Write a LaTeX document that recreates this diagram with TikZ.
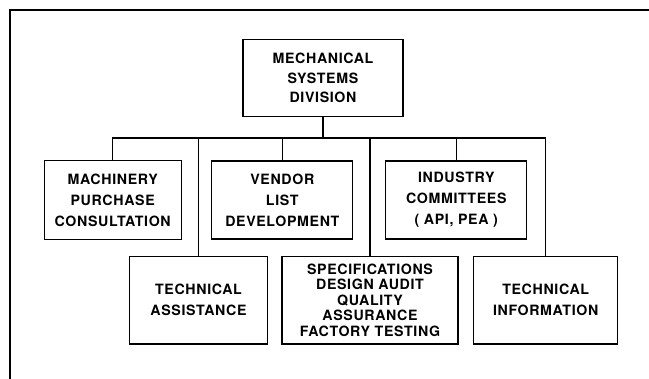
\documentclass[tikz,border=0pt]{standalone}
\usepackage{fontspec}
\setmainfont{TeX Gyre Heros}[LetterSpace=4.5]
\usetikzlibrary{calc}
\tikzset{
  box/.style={draw, line width=1.2pt, inner sep=0pt, align=center,
    font=\bfseries\fontsize{14.2}{21}\selectfont},
  tight/.style={font=\bfseries\fontsize{14.2}{15.5}\selectfont},
  topline/.style={font=\bfseries\fontsize{14.2}{19.2}\selectfont},
  wire/.style={line width=1.2pt},
}
\begin{document}
\begin{tikzpicture}[x=1pt,y=-1pt]
\useasboundingbox (0,0) rectangle (649,379);
\draw[wire] (10,379) -- (10,10) -- (649,10);
\node[box, topline, minimum width=160pt, minimum height=77pt] (top) at (323,78) {MECHANICAL\\SYSTEMS\\DIVISION};
\node[box, minimum width=137pt, minimum height=79pt] (mach) at (112.7,200.3) {MACHINERY\\PURCHASE\\CONSULTATION};
\node[box, minimum width=141pt, minimum height=78pt] (vend) at (282.3,200) {VENDOR\\LIST\\DEVELOPMENT};
\node[box, minimum width=141pt, minimum height=78pt] (ind) at (456.3,200) {INDUSTRY\\COMMITTEES\\( API, PEA )};
\node[box, minimum width=137.6pt, minimum height=87.3pt] (tass) at (198.5,300.3) {TECHNICAL\\ASSISTANCE};
\node[box, tight, minimum width=176pt, minimum height=87.3pt] (spec) at (370,300.3) {SPECIFICATIONS\\DESIGN AUDIT\\QUALITY\\ASSURANCE\\FACTORY TESTING};
\node[box, minimum width=144pt, minimum height=87.3pt] (tinf) at (545.7,300.3) {TECHNICAL\\INFORMATION};
\coordinate (bus) at ($(top.south)+(0,21)$);
\draw[wire] (top.south) -- (bus);
\foreach \c in {mach,vend,ind,tass,spec,tinf}
  \draw[wire] (bus) -| (\c.north);
\end{tikzpicture}
\end{document}
